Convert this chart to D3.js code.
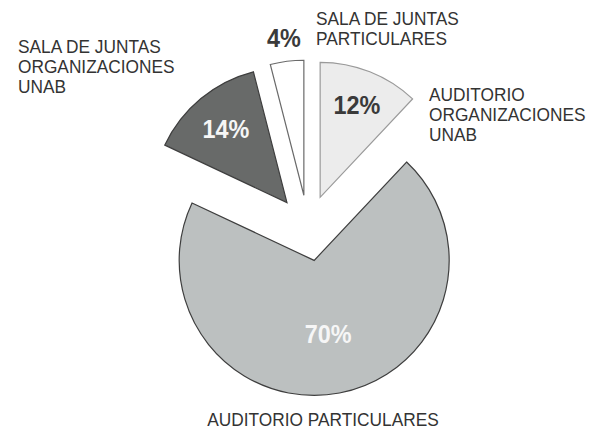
<!DOCTYPE html>
<html lang="es">
<head>
<meta charset="utf-8">
<title>Uso de salas</title>
<script src="https://d3js.org/d3.v7.min.js"></script>
<style>
  body { margin: 0; background: #fff; }
  svg { display: block; }
  text { font-family: "Liberation Sans", Arial, sans-serif; }
</style>
</head>
<body>
<div class="chart"></div>
<script>
// data, clockwise from 12 o'clock
var categories = ["AUDITORIO ORGANIZACIONES UNAB", "AUDITORIO PARTICULARES",
                  "SALA DE JUNTAS ORGANIZACIONES UNAB", "SALA DE JUNTAS PARTICULARES"];
var values = [12, 70, 14, 4];
var fills = ["#ececec", "#bcc0c0", "#686a69", "#ffffff"];
var strokes = ["#9a9a9a", "#3e3e3e", "#3e3e3e", "#6a6a6a"];
var pctColors = ["#3a3a3a", "#f6f6f6", "#f6f6f6", "#3a3a3a"];
var labelRadius = [0.74, 0.55, 0.71, 1.18]; // fraction of radius for the % text

// category label blocks (line lists, anchor, position)
var catLabels = [
  { lines: ["AUDITORIO", "ORGANIZACIONES", "UNAB"], x: 429, y: 101, anchor: "start" },
  { lines: ["AUDITORIO PARTICULARES"], x: 323, y: 426, anchor: "middle" },
  { lines: ["SALA DE JUNTAS", "ORGANIZACIONES", "UNAB"], x: 18, y: 53, anchor: "start" },
  { lines: ["SALA DE JUNTAS", "PARTICULARES"], x: 316, y: 25, anchor: "start" }
];

var width = 598, height = 431,
    cx = 308, cy = 228,
    radius = 135,
    explode = 33;

var svg = d3.select(".chart").append("svg")
    .attr("width", width)
    .attr("height", height);

var pie = d3.pie().sort(null).value(function(d){ return d; });
var arcs = pie(values);

var arc = d3.arc().innerRadius(0).outerRadius(radius);

var g = svg.append("g").attr("transform", "translate(" + cx + "," + cy + ")");

function offset(d, r) {
  var a = (d.startAngle + d.endAngle) / 2;
  return [Math.sin(a) * r, -Math.cos(a) * r];
}

var slice = g.selectAll("g.slice")
  .data(arcs)
  .enter().append("g")
  .attr("class", "slice")
  .attr("transform", function(d){
    var o = offset(d, explode);
    return "translate(" + o[0] + "," + o[1] + ")";
  });

slice.append("path")
  .attr("d", arc)
  .attr("fill", function(d, i){ return fills[i]; })
  .attr("stroke", function(d, i){ return strokes[i]; })
  .attr("stroke-width", 1.2)
  .attr("stroke-linejoin", "miter");

// percentages (font is a bit narrow in the original, hence the x-squeeze)
slice.append("g")
  .attr("transform", function(d, i){
    var o = offset(d, radius * labelRadius[i]);
    return "translate(" + o[0] + "," + o[1] + ") scale(0.9,1)";
  })
  .append("text")
  .attr("text-anchor", "middle")
  .attr("dy", "0.36em")
  .attr("font-size", 26)
  .attr("font-weight", "bold")
  .attr("fill", function(d, i){ return pctColors[i]; })
  .text(function(d){ return d.data + "%"; });

// category names
catLabels.forEach(function(c){
  var t = svg.append("g")
    .attr("transform", "translate(" + c.x + "," + c.y + ") scale(0.91,1)")
    .append("text")
    .attr("text-anchor", c.anchor)
    .attr("font-size", 19)
    .attr("fill", "#333");
  c.lines.forEach(function(l, k){
    t.append("tspan").attr("x", 0).attr("y", k * 20).text(l);
  });
});
</script>
</body>
</html>
